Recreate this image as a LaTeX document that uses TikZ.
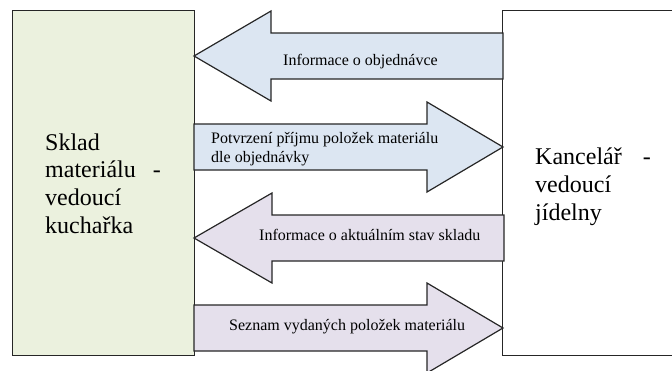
\documentclass[tikz,border=0pt]{standalone}
\usepackage{fontspec}
\setmainfont{Liberation Serif}
\definecolor{storegreen}{HTML}{EBF1DE}
\definecolor{orderblue}{HTML}{DCE6F2}
\definecolor{stockviolet}{HTML}{E5E0EC}
\tikzset{
  panel/.style={draw=black!85, line width=1.2pt, line join=miter},
  kstore/.style={panel, fill=storegreen},
  koffice/.style={panel, fill=white},
  korder/.style={panel, fill=orderblue},
  kstock/.style={panel, fill=stockviolet},
  biglabel/.style={anchor=base west, align=left, inner sep=0pt, font=\fontsize{24}{27.6}\selectfont},
  flowlabel/.style={anchor=base west, align=left, inner sep=0pt, font=\fontsize{16}{19}\selectfont},
}

\begin{document}
\begin{tikzpicture}[x=1pt, y=-1pt]
    \useasboundingbox (0,0) rectangle (672,370);
    % the two parties
    \node[kstore, anchor=north west, minimum width=182pt, minimum height=345pt] (store) at (12,10) {};
    \node[koffice, anchor=north west, minimum width=190pt, minimum height=345pt] (office) at (502,10) {};
    \node[biglabel] (storetext) at (45,233) {Sklad\\materiálu\hspace{17pt}-\\vedoucí\\kuchařka};
    \node[biglabel] (officetext) at (535,220) {Kancelář\hspace{21pt}-\\vedoucí\\jídelny};
    % block arrows
    \draw[korder] (503,33) -- (271,33) -- (271,11) -- (194,56) -- (271,101) -- (271,79) -- (503,79) -- cycle;
    \draw[korder] (194,124) -- (427,124) -- (427,102) -- (503,147) -- (427,192) -- (427,170) -- (194,170) -- cycle;
    \draw[kstock] (504,215) -- (272,215) -- (272,193) -- (194,238) -- (272,283) -- (272,261) -- (504,261) -- cycle;
    \draw[kstock] (194,305) -- (427,305) -- (427,283) -- (503,328) -- (427,373) -- (427,351) -- (194,351) -- cycle;
    % arrow labels
    \node[flowlabel] (order) at (283,65) {Informace o objednávce};
    \node[flowlabel] (receipt) at (211,162) {Potvrzení příjmu položek materiálu\\dle objednávky};
    \node[flowlabel] (stock) at (259,240) {Informace o aktuálním stav skladu};
    \node[flowlabel] (issued) at (229,330) {Seznam vydaných položek materiálu};
  \end{tikzpicture}
\end{document}
